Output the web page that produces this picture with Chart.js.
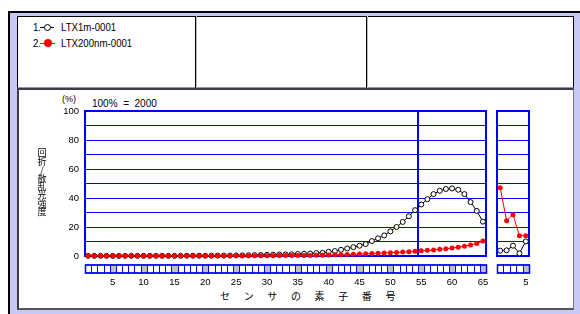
<!DOCTYPE html>
<html>
<head>
<meta charset="utf-8">
<script src="https://cdn.jsdelivr.net/npm/chart.js@4/dist/chart.umd.min.js"></script>
<style>
  body { margin: 0; width: 580px; height: 314px; position: relative; overflow: hidden; background: #fff; }
  .abs { position: absolute; }
  .lg { font-family: "Liberation Sans", Arial, sans-serif; font-size: 11.5px; line-height: 14px; height: 14px; color: #000; white-space: nowrap; transform: scaleX(0.84); transform-origin: 0 50%; }
  .jp { font-family: "Noto Sans CJK JP", sans-serif; color: #000; }
  .ar { font-family: "Liberation Sans", Arial, sans-serif; color: #000; white-space: pre; }
  canvas { position: absolute; left: 0; top: 0; }
</style>
</head>
<body>
<!-- frame -->
<div class="abs" style="left:8px;top:11px;width:572px;height:303px;background:#c8c8f6;border-top:2px solid #000;border-left:2px solid #000;box-sizing:border-box"></div>
<div class="abs" style="left:17px;top:16px;width:557px;height:72px;background:#fff;border:1px solid #000;border-bottom-color:#999;box-sizing:border-box"></div>
<div class="abs" style="left:195px;top:16px;width:1px;height:72px;background:#000"></div>
<div class="abs" style="left:196px;top:16px;width:1px;height:72px;background:#bbb"></div>
<div class="abs" style="left:366px;top:16px;width:1px;height:72px;background:#000"></div>
<div class="abs" style="left:367px;top:16px;width:1px;height:72px;background:#bbb"></div>
<div class="abs" style="left:17px;top:88px;width:557px;height:222px;background:#fff;border-top:2px solid #3c3c48;border-left:2px solid #3c3c48;border-right:1px solid #777;border-bottom:2px solid #555;box-sizing:border-box"></div>

<!-- legend -->
<div class="abs lg" style="left:33px;top:20px">1.</div>
<div class="abs" style="left:40px;top:27px;width:14px;height:1px;background:#000"></div>
<div class="abs" style="left:44px;top:24px;width:5px;height:5px;border:1px solid #000;border-radius:50%;background:#fff"></div>
<div class="abs lg" style="left:61px;top:20px">LTX1m-0001</div>
<div class="abs lg" style="left:33px;top:36px">2.</div>
<div class="abs" style="left:40px;top:43px;width:15px;height:1px;background:#f00"></div>
<div class="abs" style="left:44px;top:39px;width:8px;height:8px;border-radius:50%;background:#f00"></div>
<div class="abs lg" style="left:61px;top:36px">LTX200nm-0001</div>

<!-- axis texts -->
<div class="abs ar" style="left:62px;top:94px;font-size:9px;line-height:10px">(%)</div>
<div class="abs ar" style="left:92px;top:98px;font-size:10px;line-height:11px">100%  =  2000</div>
<div class="abs jp" style="left:220px;top:289px;font-size:10px;line-height:14px;letter-spacing:5.7px;white-space:pre">セ ン サ の 素 子 番 号</div>

<canvas id="mainChart" width="580" height="314"></canvas>
<canvas id="subChart" width="580" height="314"></canvas>

<script>
// センサ番号
const sensors = ['1','2','3','4','5','6','7','8','9','10','11','12','13','14','15','16','17','18','19','20',
  '21','22','23','24','25','26','27','28','29','30','31','32','33','34','35','36','37','38','39','40',
  '41','42','43','44','45','46','47','48','49','50','51','52','53','54','55','56','57','58','59','60',
  '61','62','63','64','65'];
const subSensors = ['1','2','3','4','5'];

// LTX1m-0001 (白丸)
const ltx1m = [0.1,0.1,0.1,0.1,0.1,0.1,0.1,0.1,0.1,0.1,0.1,0.1,0.1,0.1,0.1,0.1,0.2,0.2,0.2,0.2,
  0.2,0.3,0.3,0.3,0.4,0.4,0.5,0.6,0.7,0.8,0.9,1.0,1.1,1.2,1.4,1.5,1.7,2.0,2.2,2.9,
  3.4,4.3,5.2,6.1,7.1,8.2,10.3,12.2,14.2,17.0,20.0,23.5,27.4,31.6,35.5,39.2,42.7,45.0,46.2,46.6,
  45.7,42.7,37.2,31.1,23.7];
// LTX200nm-0001 (赤丸)
const ltx200nm = [0.1,0.1,0.1,0.1,0.1,0.1,0.1,0.1,0.1,0.1,0.1,0.1,0.1,0.1,0.1,0.1,0.1,0.1,0.1,0.1,
  0.1,0.1,0.1,0.2,0.2,0.2,0.2,0.2,0.2,0.2,0.2,0.3,0.3,0.3,0.3,0.3,0.4,0.5,0.6,0.7,
  0.8,0.9,1.0,1.2,1.3,1.5,1.7,1.9,2.1,2.3,2.5,2.8,3.0,3.3,3.6,3.9,4.2,4.6,5.0,5.5,
  6.1,6.8,7.6,8.6,10.4];

// 右側の小さいグラフ
const subLtx1m = [3.7, 3.9, 7.1, 1.8, 10.1];
const subLtx200nm = [47.1, 24.3, 28.5, 14.0, 14.0];

// 目盛ラベル
const xTickLabels = ['5','10','15','20','25','30','35','40','45','50','55','60','65'];
const subTickLabels = ['5'];
const yTickLabels = [0, 20, 40, 60, 80, 100];
const yTitle = '回折/散乱光強度';

const BLUE = '#0000ff';

// 枠線・区切り線・センサ枠・縦書きタイトル
const sensorBoxes = {
  id: 'sensorBoxes',
  beforeDatasetsDraw(chart, args, opts) {
    const { ctx, chartArea: a, scales: { x } } = chart;
    ctx.save();
    ctx.strokeStyle = BLUE;
    ctx.lineWidth = 2;
    ctx.strokeRect(a.left, a.top, a.right - a.left, a.bottom - a.top);
    if (opts.divider != null) {
      const px = Math.round((x.getPixelForValue(opts.divider) + x.getPixelForValue(opts.divider + 1)) / 2);
      ctx.beginPath();
      ctx.moveTo(px, a.top);
      ctx.lineTo(px, a.bottom);
      ctx.stroke();
    }
    ctx.restore();
  },
  afterDraw(chart, args, opts) {
    const { ctx, chartArea: a, scales: { x } } = chart;
    const labels = chart.data.labels;
    const w = x.getPixelForValue(1) - x.getPixelForValue(0);
    const top = a.bottom + 9, h = 8;
    ctx.save();
    ctx.strokeStyle = BLUE;
    ctx.lineWidth = 1;
    labels.forEach((lab, i) => {
      const l = Math.round(x.getPixelForValue(i) - w / 2) + 0.5;
      const r = Math.round(x.getPixelForValue(i) + w / 2) + 0.5;
      ctx.fillStyle = (Number(lab) % 5 === 0) ? '#c0c0c0' : '#ffffff';
      ctx.fillRect(l, top, r - l, h);
      ctx.strokeRect(l, top, r - l, h);
    });
    ctx.lineWidth = 1.5;
    ctx.strokeRect(Math.round(a.left) + 0.5, top, Math.round(a.right) - Math.round(a.left), h);

    // 縦書きのY軸タイトル
    if (opts.title) {
      ctx.fillStyle = '#000';
      ctx.font = '9px "Noto Sans CJK JP"';
      ctx.textAlign = 'center';
      ctx.textBaseline = 'middle';
      Array.from(opts.title).forEach((ch, i) => {
        ctx.fillText(ch, 42, 153 + i * 8.4);
      });
    }
    ctx.restore();
  }
};

function datasets(black, red) {
  return [{
    label: 'LTX1m-0001',
    data: black,
    borderColor: '#000',
    borderWidth: 1,
    pointRadius: 2.5,
    pointBorderWidth: 1,
    pointBackgroundColor: '#fff',
    pointBorderColor: '#000',
    tension: 0,
    clip: false,
    order: 1
  }, {
    label: 'LTX200nm-0001',
    data: red,
    borderColor: '#ff0000',
    borderWidth: 1,
    pointRadius: 2.5,
    pointBorderWidth: 0,
    pointBackgroundColor: '#ff0000',
    pointBorderColor: '#ff0000',
    tension: 0,
    clip: false,
    order: 0
  }];
}

function options(pad, yWidth, showY, xLabels, divider, title) {
  return {
    responsive: false,
    animation: false,
    layout: { padding: pad, autoPadding: false },
    plugins: {
      legend: { display: false },
      tooltip: { enabled: false },
      sensorBoxes: { divider: divider, title: title }
    },
    scales: {
      x: {
        type: 'category',
        offset: true,
        grid: { display: false },
        border: { display: false },
        ticks: {
          autoSkip: false,
          maxRotation: 0,
          padding: 13,
          color: '#000',
          font: { family: 'Liberation Sans', size: 9.5 },
          callback: function (v) {
            const lab = this.getLabelForValue(v);
            return xLabels.includes(lab) ? lab : '';
          }
        },
        afterFit: s => { s.height = 58; }
      },
      y: {
        min: 0,
        max: 100,
        grid: { color: BLUE, lineWidth: 1, drawTicks: false },
        border: { display: false },
        ticks: {
          stepSize: 10,
          padding: 6,
          display: showY,
          color: '#000',
          font: { family: 'Liberation Sans', size: 9.5 },
          callback: v => yTickLabels.includes(v) ? v : ''
        },
        afterFit: s => { s.width = yWidth; }
      }
    }
  };
}

new Chart(document.getElementById('mainChart'), {
  type: 'line',
  data: { labels: sensors, datasets: datasets(ltx1m, ltx200nm) },
  options: options({ left: 20, right: 94, top: 111, bottom: 0 }, 65, true, xTickLabels, 53, yTitle),
  plugins: [sensorBoxes]
});

new Chart(document.getElementById('subChart'), {
  type: 'line',
  data: { labels: subSensors, datasets: datasets(subLtx1m, subLtx200nm) },
  options: options({ left: 497, right: 51, top: 111, bottom: 0 }, 0, false, subTickLabels, null, null),
  plugins: [sensorBoxes]
});
</script>
</body>
</html>
